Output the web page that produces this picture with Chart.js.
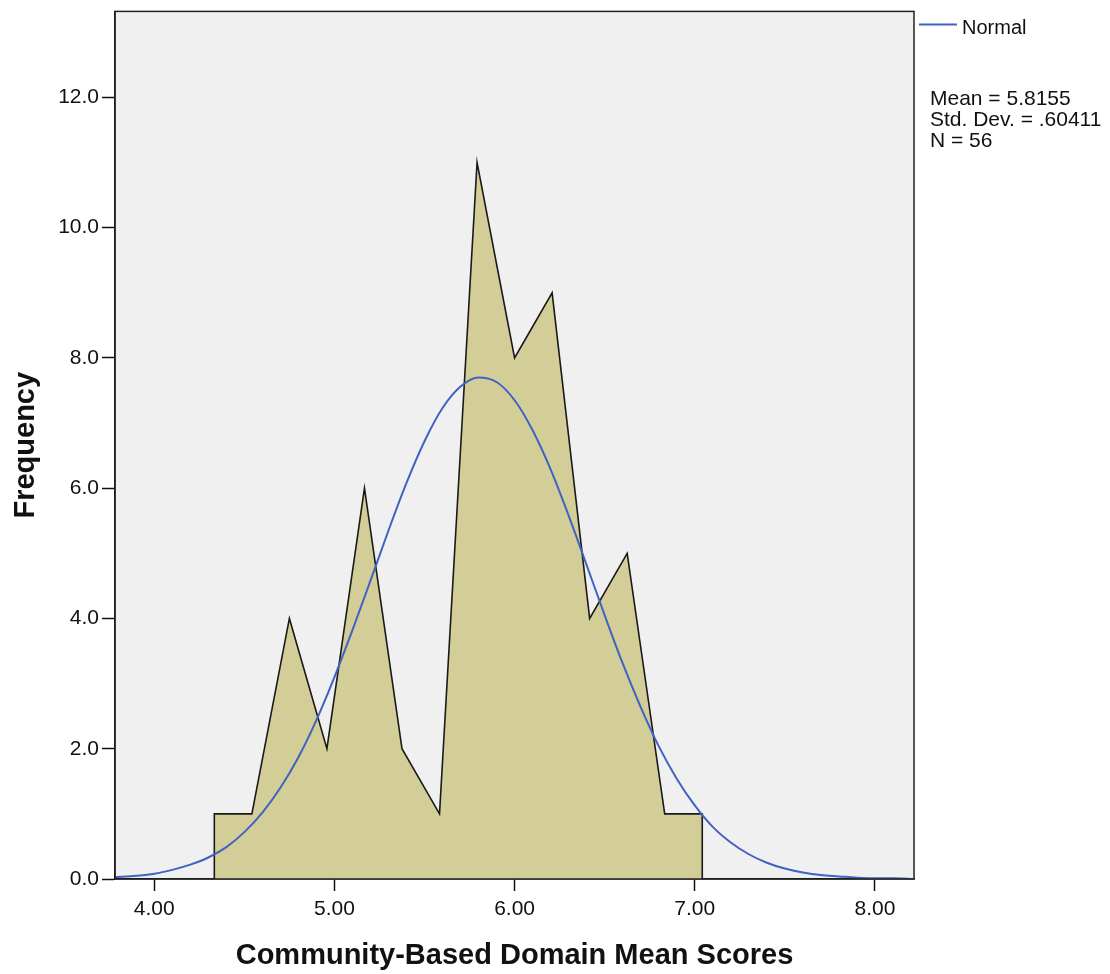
<!DOCTYPE html>
<html>
<head>
<meta charset="utf-8">
<title>Community-Based Domain Mean Scores</title>
<script src="https://cdn.jsdelivr.net/npm/chart.js@4.4.1/dist/chart.umd.min.js"></script>
<style>
  html, body { margin: 0; padding: 0; background: #ffffff; }
  #wrap { width: 1110px; height: 974px; position: relative; }
</style>
</head>
<body>
<div id="wrap"><canvas id="chart"></canvas></div>
<script>
// Frequency outline: vertices at the bin edges (bin width ~0.208)
const histX = [4.3333, 4.3333, 4.5417, 4.75, 4.9583, 5.1667, 5.375, 5.5833, 5.7917, 6.0, 6.2083, 6.4167, 6.625, 6.8333, 7.0417, 7.0417];
const histY = [0, 1, 1, 4, 2, 6, 2, 1, 11, 8, 9, 4, 5, 1, 1, 0];

// Fitted normal curve, sampled every 0.1
const normalX = [3.78, 3.9, 4.0, 4.1, 4.2, 4.3, 4.4, 4.5, 4.6, 4.7, 4.8, 4.9, 5.0, 5.1, 5.2, 5.3, 5.4, 5.5, 5.6, 5.7, 5.8, 5.9,
                 6.0, 6.1, 6.2, 6.3, 6.4, 6.5, 6.6, 6.7, 6.8, 6.9, 7.0, 7.1, 7.2, 7.3, 7.4, 7.5, 7.6, 7.7, 7.8, 7.9, 8.0, 8.1, 8.22];
const normalY = [0.03, 0.05, 0.08, 0.14, 0.22, 0.33, 0.49, 0.72, 1.02, 1.40, 1.87, 2.44, 3.10, 3.82, 4.58, 5.35, 6.08, 6.72, 7.23, 7.56, 7.70, 7.63,
                 7.35, 6.89, 6.29, 5.58, 4.82, 4.05, 3.31, 2.64, 2.04, 1.54, 1.13, 0.80, 0.56, 0.38, 0.25, 0.16, 0.10, 0.06, 0.04, 0.02, 0.01, 0.01, 0.00];

const xTicks = [4, 5, 6, 7, 8];
const yTicks = [0, 2, 4, 6, 8, 10, 12];
const xLimits = [3.782, 8.217];
const yLimits = [0, 13.32];

const seriesName = 'Normal';
const statLines = ['Mean = 5.8155', 'Std. Dev. = .60411', 'N = 56'];
const xTitle = 'Community-Based Domain Mean Scores';
const yTitle = 'Frequency';

const FONT = "'Liberation Sans', Arial, sans-serif";
const CURVE = '#4062c2';
const FILL = '#d3ce97';
const PANEL = '#f0f0f0';

const toPoints = (xs, ys) => xs.map((x, i) => ({ x: x, y: ys[i] }));

// Grey panel behind the plot, frame around it, and the side key + statistics
const panelPlugin = {
  id: 'panel',
  beforeDraw(chart) {
    const { ctx, chartArea: a } = chart;
    ctx.save();
    ctx.fillStyle = PANEL;
    ctx.fillRect(a.left, a.top, a.right - a.left, a.bottom - a.top);
    ctx.restore();
  },
  afterDraw(chart) {
    const { ctx, chartArea: a } = chart;
    ctx.save();
    ctx.strokeStyle = '#222';
    ctx.lineWidth = 1.5;
    ctx.strokeRect(a.left, a.top, a.right - a.left, a.bottom - a.top);

    // key entry for the curve
    const kx = a.right + 5;
    const ky = a.top + 13;
    ctx.strokeStyle = CURVE;
    ctx.lineWidth = 2;
    ctx.beginPath();
    ctx.moveTo(kx, ky);
    ctx.lineTo(kx + 38, ky);
    ctx.stroke();
    ctx.fillStyle = '#111';
    ctx.font = '20px ' + FONT;
    ctx.textBaseline = 'alphabetic';
    ctx.textAlign = 'left';
    ctx.fillText(seriesName, kx + 43, ky + 10);

    // summary statistics
    ctx.font = '21px ' + FONT;
    statLines.forEach((t, i) => ctx.fillText(t, a.right + 16, a.top + 94 + i * 21));
    ctx.restore();
  }
};

new Chart(document.getElementById('chart'), {
  type: 'line',
  data: {
    datasets: [
      {
        label: seriesName,
        data: toPoints(normalX, normalY),
        borderColor: CURVE,
        borderWidth: 2,
        pointRadius: 0,
        fill: false,
        cubicInterpolationMode: 'monotone',
        order: 0
      },
      {
        label: 'Frequency',
        data: toPoints(histX, histY),
        borderColor: '#1a1a1a',
        borderWidth: 1.6,
        backgroundColor: FILL,
        pointRadius: 0,
        tension: 0,
        fill: 'origin',
        order: 1
      }
    ]
  },
  options: {
    responsive: true,
    maintainAspectRatio: false,
    animation: false,
    events: [],
    layout: { padding: { top: 10, right: 196, bottom: 0, left: 0 } },
    plugins: {
      legend: { display: false },
      tooltip: { enabled: false },
      title: { display: false }
    },
    scales: {
      x: {
        type: 'linear',
        min: xLimits[0],
        max: xLimits[1],
        afterBuildTicks(s) { s.ticks = xTicks.map(v => ({ value: v })); },
        afterFit(s) { s.height = 95; },
        grid: { display: true, drawOnChartArea: false, drawTicks: true, tickLength: 12, tickColor: '#111', tickWidth: 1.5 },
        border: { display: true, color: '#111', width: 1.5 },
        ticks: {
          color: '#111',
          padding: 10,
          maxRotation: 0,
          autoSkip: false,
          font: { family: FONT, size: 21, lineHeight: 0.8 },
          callback: v => Number(v).toFixed(2)
        },
        title: {
          display: true,
          text: xTitle,
          color: '#111',
          font: { family: FONT, size: 29, weight: 'bold', lineHeight: 1 },
          padding: { top: 0, bottom: 4 }
        }
      },
      y: {
        type: 'linear',
        min: yLimits[0],
        max: yLimits[1],
        afterBuildTicks(s) { s.ticks = yTicks.map(v => ({ value: v })); },
        afterFit(s) { s.width = 115; },
        grid: { display: true, drawOnChartArea: false, drawTicks: true, tickLength: 13, tickColor: '#111', tickWidth: 1.5 },
        border: { display: true, color: '#111', width: 1.5 },
        ticks: {
          color: '#111',
          padding: 3,
          autoSkip: false,
          font: { family: FONT, size: 21, lineHeight: 0.8 },
          callback: v => Number(v).toFixed(1)
        },
        title: {
          display: true,
          text: yTitle,
          color: '#111',
          font: { family: FONT, size: 29, weight: 'bold', lineHeight: 1 },
          padding: { top: 11, bottom: 0 }
        }
      }
    }
  },
  plugins: [panelPlugin]
});
</script>
</body>
</html>
